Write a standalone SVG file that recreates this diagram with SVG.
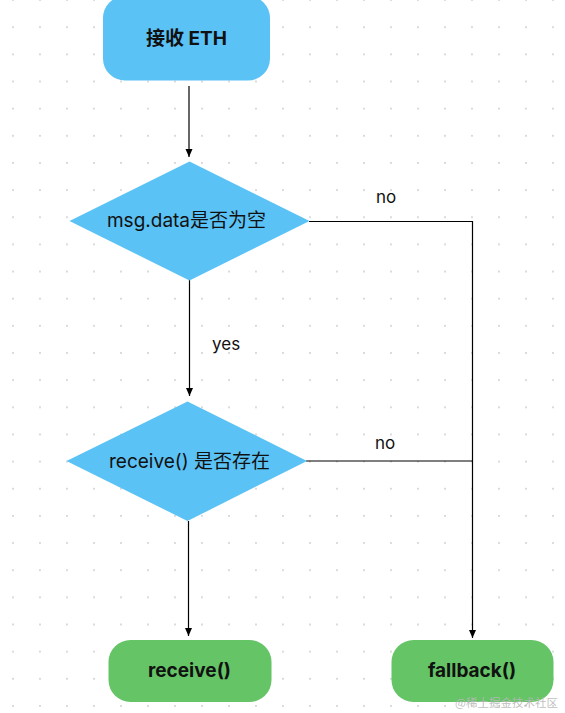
<svg xmlns="http://www.w3.org/2000/svg" width="565" height="713" viewBox="0 0 565 713">
  <defs>
    <pattern id="dots" patternUnits="userSpaceOnUse" x="0" y="-13.5" width="27" height="27.15">
      <circle cx="13" cy="13.5" r="0.9" fill="#c6c6c6"/>
    </pattern>
    <marker id="arrow" markerUnits="userSpaceOnUse" markerWidth="9" markerHeight="8" refX="8" refY="3.5" orient="auto">
      <path d="M0,0 L8,3.5 L0,7 z" fill="#000"/>
    </marker>
  </defs>
  <style>
    .blue { fill: #5bc2f5; }
    .green { fill: #64c466; }
    .t { font-family: Inter, "Noto Sans CJK SC", sans-serif; fill: #111; text-anchor: middle; }
    .b { font-weight: bold; font-size: 19px; }
    .r { font-size: 19px; }
    .lbl { font-family: Inter, "Noto Sans CJK SC", sans-serif; font-size: 17px; fill: #111; }
    .edge { stroke: #000; stroke-width: 1.2; fill: none; }
  </style>
  <rect width="565" height="713" fill="#fff"/>
  <rect width="565" height="713" fill="url(#dots)"/>

  <g id="connectors">
    <line class="edge" x1="189" y1="86" x2="189" y2="157" marker-end="url(#arrow)"/>
    <line class="edge" x1="189.5" y1="280" x2="189.5" y2="396" marker-end="url(#arrow)"/>
    <line class="edge" x1="188.5" y1="521" x2="188.5" y2="636" marker-end="url(#arrow)"/>
    <polyline class="edge" points="309,221.5 472.5,221.5 472.5,638" marker-end="url(#arrow)"/>
    <line class="edge" x1="306" y1="461" x2="472.5" y2="461"/>
    <text class="lbl" x="212" y="350">yes</text>
    <text class="lbl" x="376" y="203">no</text>
    <text class="lbl" x="375" y="449">no</text>
  </g>

  <g id="start">
    <rect class="blue" x="103" y="-4" width="167" height="84.5" rx="22"/>
    <text class="t b" x="186.5" y="45">接收 ETH</text>
  </g>

  <g id="check-data">
    <polygon class="blue" points="189.5,161.5 309.5,221 189.5,280.5 69.5,221"/>
    <text class="t r" x="186.5" y="227">msg.data是否为空</text>
  </g>

  <g id="check-receive">
    <polygon class="blue" points="187.5,401.5 307,461 187.5,521 66.5,461"/>
    <text class="t r" x="189.5" y="468">receive() 是否存在</text>
  </g>

  <g id="receive">
    <rect class="green" x="108.5" y="640" width="163" height="62" rx="22"/>
    <text class="t b" x="189.5" y="677">receive()</text>
  </g>

  <g id="fallback">
    <rect class="green" x="391.5" y="640" width="162" height="62" rx="22"/>
    <text class="t b" x="472" y="677">fallback()</text>
  </g>

  <text x="455" y="707" font-family="'Noto Sans CJK SC', sans-serif" font-size="11.5" fill="#b8b8b8" fill-opacity="0.9">@稀土掘金技术社区</text>
</svg>
